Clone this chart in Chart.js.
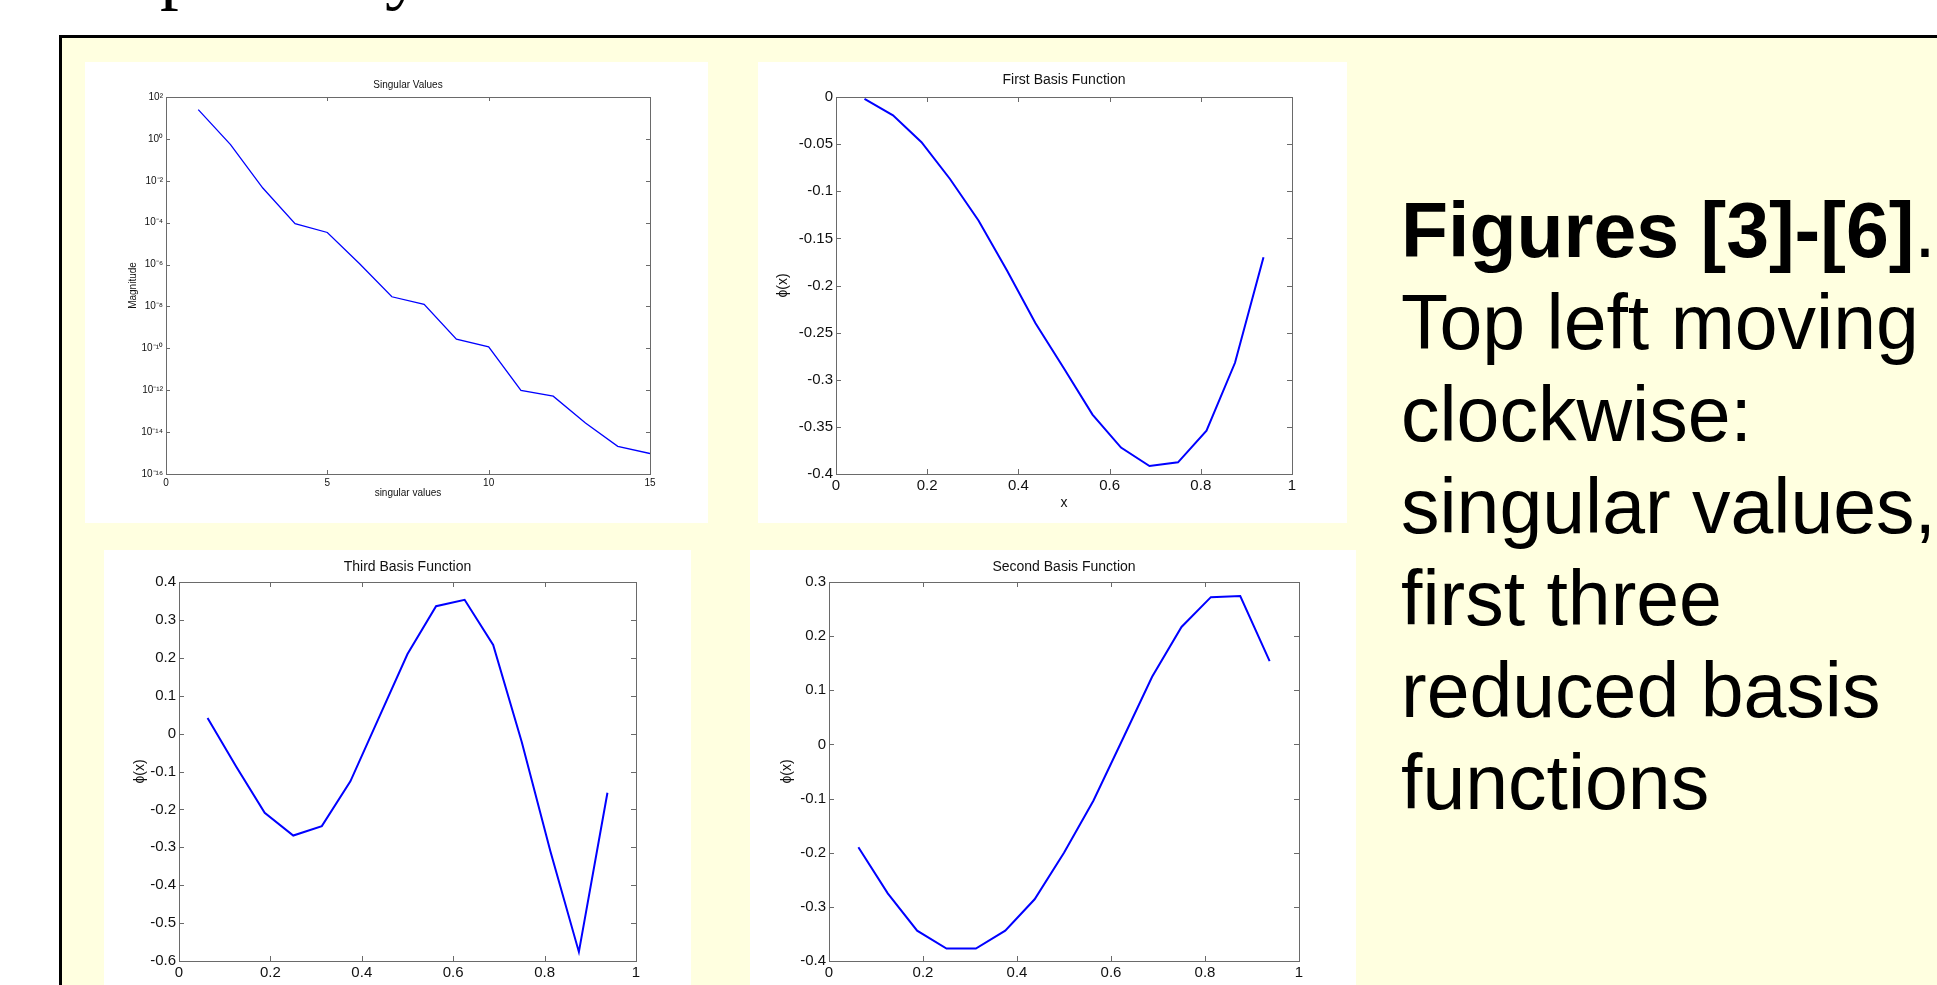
<!DOCTYPE html>
<html>
<head>
<meta charset="utf-8">
<title>Figures [3]-[6]</title>
<script src="https://cdn.jsdelivr.net/npm/chart.js@4.4.1/dist/chart.umd.min.js"></script>
<style>
  html, body { margin: 0; padding: 0; }
  body {
    width: 1937px; height: 985px; overflow: hidden; position: relative;
    background: #ffffff; font-family: "Liberation Sans", Arial, sans-serif;
  }
  .frame {
    position: absolute; left: 59px; top: 35px; width: 1900px; height: 1000px;
    border-left: 3px solid #000; border-top: 3px solid #000;
    background: #ffffe0;
  }
  .panel { position: absolute; background: #fff; }
  .panel canvas { display: block; }
  .cut {
    position: absolute; top: -68px; font-family: "Liberation Serif", "Times New Roman", serif;
    font-size: 75px; line-height: 75px; color: #000;
  }
  .caption {
    position: absolute; left: 1401px; top: 184px;
    font-size: 77px; line-height: 92px; color: #000; white-space: nowrap;
  }
</style>
</head>
<body>
<!-- descenders of the slide heading that sits above the crop -->
<div class="cut" style="left:160px">p</div>
<div class="cut" style="left:385px">y</div>

<div class="frame"></div>

<div class="panel" style="left:85px;top:62px;width:623px;height:461px"><canvas id="svChart" width="623" height="461"></canvas></div>
<div class="panel" style="left:758px;top:62px;width:589px;height:461px"><canvas id="firstChart" width="589" height="461"></canvas></div>
<div class="panel" style="left:104px;top:550px;width:587px;height:435px"><canvas id="thirdChart" width="587" height="435"></canvas></div>
<div class="panel" style="left:750px;top:550px;width:606px;height:435px"><canvas id="secondChart" width="606" height="435"></canvas></div>

<div class="caption"><b>Figures [3]-[6]</b>.<br>Top left moving<br>clockwise:<br>singular values,<br>first three<br>reduced basis<br>functions</div>

<script>
// datos
const svIndex = [1, 2, 3, 4, 5, 6, 7, 8, 9, 10, 11, 12, 13, 14, 15];
const svValues = [25, 0.53, 4.5e-3, 8.9e-5, 3.4e-5, 1.1e-6, 2.9e-8, 1.25e-8, 2.75e-10, 1.18e-10, 9.7e-13, 5.2e-13, 2.7e-14, 2.1e-15, 9.5e-16];
const svXTicks = [0, 5, 10, 15];
const svYTicks = [1e-16, 1e-14, 1e-12, 1e-10, 1e-8, 1e-6, 1e-4, 1e-2, 1e0, 1e2];
const svYLabels = ['10⁻¹⁶', '10⁻¹⁴', '10⁻¹²', '10⁻¹⁰', '10⁻⁸', '10⁻⁶', '10⁻⁴', '10⁻²', '10⁰', '10²'];

const basisX = [0.0625, 0.125, 0.1875, 0.25, 0.3125, 0.375, 0.4375, 0.5, 0.5625, 0.625, 0.6875, 0.75, 0.8125, 0.875, 0.9375];
const firstBasis = [-0.002, -0.0195, -0.048, -0.087, -0.131, -0.184, -0.240, -0.288, -0.337, -0.372, -0.3915, -0.3876, -0.354, -0.282, -0.170];
const secondBasis = [-0.190, -0.275, -0.344, -0.377, -0.377, -0.344, -0.286, -0.200, -0.104, 0.01, 0.125, 0.217, 0.272, 0.274, 0.154];
const thirdBasis = [0.041, -0.087, -0.209, -0.269, -0.244, -0.126, 0.042, 0.21, 0.336, 0.353, 0.234, -0.022, -0.31, -0.576, -0.156];

const basisXTicks = [0, 0.2, 0.4, 0.6, 0.8, 1];
const basisXLabels = ['0', '0.2', '0.4', '0.6', '0.8', '1'];
const firstYTicks = [-0.4, -0.35, -0.3, -0.25, -0.2, -0.15, -0.1, -0.05, 0];
const firstYLabels = ['-0.4', '-0.35', '-0.3', '-0.25', '-0.2', '-0.15', '-0.1', '-0.05', '0'];
const secondYTicks = [-0.4, -0.3, -0.2, -0.1, 0, 0.1, 0.2, 0.3];
const secondYLabels = ['-0.4', '-0.3', '-0.2', '-0.1', '0', '0.1', '0.2', '0.3'];
const thirdYTicks = [-0.6, -0.5, -0.4, -0.3, -0.2, -0.1, 0, 0.1, 0.2, 0.3, 0.4];
const thirdYLabels = ['-0.6', '-0.5', '-0.4', '-0.3', '-0.2', '-0.1', '0', '0.1', '0.2', '0.3', '0.4'];

const FONT = '"Liberation Sans", Arial, sans-serif';
const AXIS_GRAY = '#6a6a6a';

// caja estilo MATLAB con marcas hacia dentro y título encima
const matlabBox = {
    id: 'matlabBox',
    beforeDatasetsDraw(chart, args, opts) {
        const {ctx, chartArea: a, scales} = chart;
        const len = opts.tickLen;
        ctx.save();
        ctx.strokeStyle = AXIS_GRAY;
        ctx.lineWidth = 1;
        ctx.strokeRect(Math.round(a.left) + 0.5, Math.round(a.top) + 0.5, Math.round(a.width), Math.round(a.height));
        ctx.beginPath();
        scales.x.ticks.forEach(t => {
            const px = Math.round(scales.x.getPixelForValue(t.value)) + 0.5;
            ctx.moveTo(px, a.bottom); ctx.lineTo(px, a.bottom - len);
            ctx.moveTo(px, a.top); ctx.lineTo(px, a.top + len);
        });
        scales.y.ticks.forEach(t => {
            const py = Math.round(scales.y.getPixelForValue(t.value)) + 0.5;
            ctx.moveTo(a.left, py); ctx.lineTo(a.left + len, py);
            ctx.moveTo(a.right, py); ctx.lineTo(a.right - len, py);
        });
        ctx.stroke();
        ctx.fillStyle = '#111';
        ctx.font = opts.titleSize + 'px ' + FONT;
        ctx.textAlign = 'center';
        ctx.textBaseline = 'middle';
        ctx.fillText(opts.title, (a.left + a.right) / 2, a.top - opts.titleGap);
        ctx.restore();
    }
};

function makePlot(id, cfg) {
    const ctx = document.getElementById(id).getContext('2d');
    const tickFont = { family: FONT, size: cfg.tickSize };
    const labelFont = { family: FONT, size: cfg.labelSize };
    return new Chart(ctx, {
        type: 'line',
        data: {
            datasets: [{
                data: cfg.xs.map((x, i) => ({ x: x, y: cfg.ys[i] })),
                borderColor: '#0000ff',
                borderWidth: cfg.lineWidth,
                pointRadius: 0,
                fill: false,
                tension: 0
            }]
        },
        options: {
            responsive: false,
            animation: false,
            devicePixelRatio: 1,
            layout: { padding: { top: cfg.top, right: cfg.right, left: 0, bottom: 0 } },
            plugins: {
                legend: { display: false },
                tooltip: { enabled: false },
                matlabBox: { title: cfg.title, titleSize: cfg.labelSize, titleGap: cfg.titleGap, tickLen: cfg.tickLen }
            },
            scales: {
                x: {
                    type: 'linear',
                    min: cfg.xTicks[0],
                    max: cfg.xTicks[cfg.xTicks.length - 1],
                    afterBuildTicks: s => { s.ticks = cfg.xTicks.map(v => ({ value: v })); },
                    afterFit: s => { s.height = cfg.xHeight; },
                    ticks: { callback: (v, i) => cfg.xLabels[i], font: tickFont, color: '#111', padding: cfg.xPad, maxRotation: 0, autoSkip: false },
                    grid: { display: false, drawTicks: false, tickLength: 0 },
                    border: { display: false },
                    title: { display: !!cfg.xTitle, text: cfg.xTitle, font: labelFont, color: '#111', padding: { top: 0, bottom: cfg.xTitlePad } }
                },
                y: {
                    type: cfg.yType || 'linear',
                    min: cfg.yTicks[0],
                    max: cfg.yTicks[cfg.yTicks.length - 1],
                    afterBuildTicks: s => { s.ticks = cfg.yTicks.map(v => ({ value: v })); },
                    afterFit: s => { s.width = cfg.yWidth; },
                    ticks: { callback: (v, i) => cfg.yLabels[i], font: tickFont, color: '#111', padding: 3, autoSkip: false },
                    grid: { display: false, drawTicks: false, tickLength: 0 },
                    border: { display: false },
                    title: { display: true, text: cfg.yTitle, font: labelFont, color: '#111', padding: { top: cfg.yTitlePad, bottom: 0 } }
                }
            }
        },
        plugins: [matlabBox]
    });
}

// Valores singulares (arriba a la izquierda)
makePlot('svChart', {
    xs: svIndex, ys: svValues, lineWidth: 1.3,
    xTicks: svXTicks, xLabels: svXTicks.map(String),
    yType: 'logarithmic', yTicks: svYTicks, yLabels: svYLabels,
    title: 'Singular Values', titleGap: 12,
    xTitle: 'singular values', xTitlePad: 24, yTitle: 'Magnitude', yTitlePad: 42,
    tickSize: 10, labelSize: 10, tickLen: 4, xPad: 3,
    top: 35, right: 58, yWidth: 81, xHeight: 49
});

// Primera función base (arriba a la derecha)
makePlot('firstChart', {
    xs: basisX, ys: firstBasis, lineWidth: 2,
    xTicks: basisXTicks, xLabels: basisXLabels,
    yTicks: firstYTicks, yLabels: firstYLabels,
    title: 'First Basis Function', titleGap: 17,
    xTitle: 'x', xTitlePad: 11, yTitle: 'ϕ(x)', yTitlePad: 17,
    tickSize: 15, labelSize: 14, tickLen: 5, xPad: 3,
    top: 35, right: 55, yWidth: 78, xHeight: 49
});

// Tercera función base (abajo a la izquierda)
makePlot('thirdChart', {
    xs: basisX, ys: thirdBasis, lineWidth: 2,
    xTicks: basisXTicks, xLabels: basisXLabels,
    yTicks: thirdYTicks, yLabels: thirdYLabels,
    title: 'Third Basis Function', titleGap: 15,
    yTitle: 'ϕ(x)', yTitlePad: 28,
    tickSize: 15, labelSize: 14, tickLen: 5, xPad: 3,
    top: 32, right: 55, yWidth: 75, xHeight: 24
});

// Segunda función base (abajo a la derecha)
makePlot('secondChart', {
    xs: basisX, ys: secondBasis, lineWidth: 2,
    xTicks: basisXTicks, xLabels: basisXLabels,
    yTicks: secondYTicks, yLabels: secondYLabels,
    title: 'Second Basis Function', titleGap: 15,
    yTitle: 'ϕ(x)', yTitlePad: 29,
    tickSize: 15, labelSize: 14, tickLen: 5, xPad: 3,
    top: 32, right: 57, yWidth: 79, xHeight: 24
});
</script>
</body>
</html>
